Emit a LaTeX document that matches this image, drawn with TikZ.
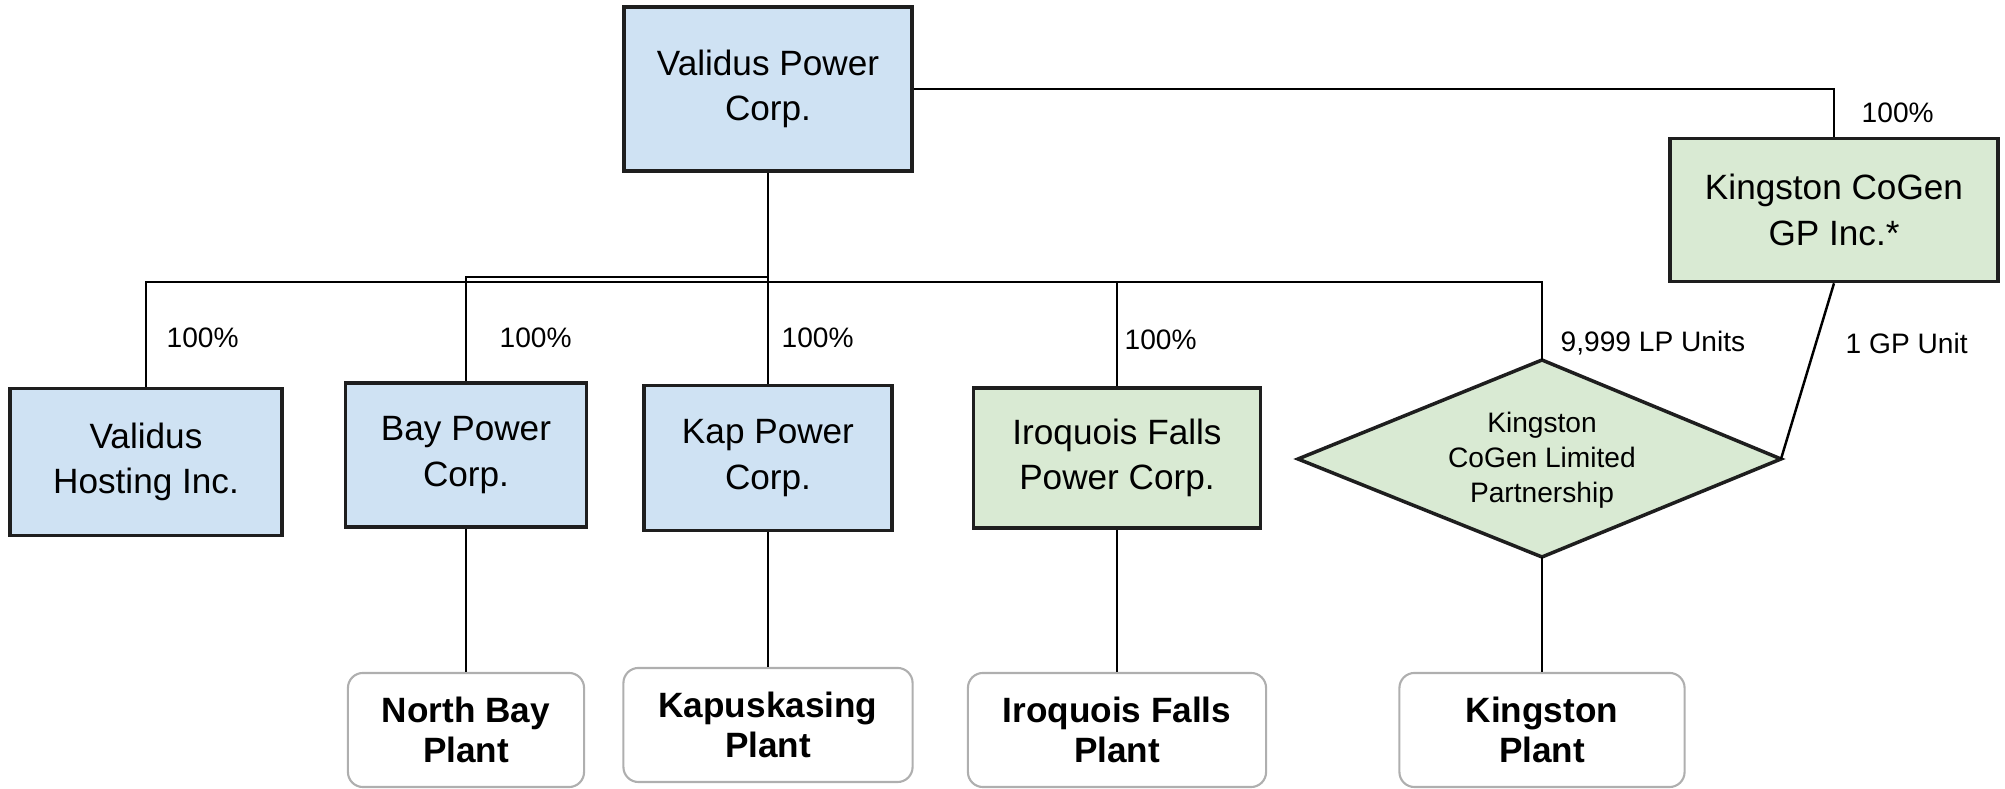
\documentclass[tikz,border=0pt]{standalone}
\usepackage{fontspec}
\setmainfont{Liberation Sans}

\definecolor{azul}{RGB}{207,226,243}
\definecolor{verde}{RGB}{217,234,211}
\definecolor{borde}{RGB}{30,30,30}
\definecolor{gris}{RGB}{175,175,175}

\tikzset{
  corp/.style={draw=borde, line width=1pt, fill=azul, align=center, inner sep=0pt,
    font=\fontsize{10}{13}\selectfont},
  corpverde/.style={corp, fill=verde},
  planta/.style={draw=gris, line width=0.6pt, rounded corners=0.15cm, align=center, inner sep=0pt,
    minimum height=1.14cm, font=\fontsize{10}{11.5}\selectfont\bfseries},
  pct/.style={anchor=west, inner sep=0pt, font=\fontsize{8}{10}\selectfont},
  linea/.style={line width=0.7pt, black}
}

\begin{document}
\begin{tikzpicture}[x=0.01cm, y=-0.01cm]
\useasboundingbox (0,0) rectangle (2005,789);

\node[corp, minimum width=2.88cm, minimum height=1.64cm] (vpc) at (768,89) {Validus Power\\Corp.};
\node[corpverde, minimum width=3.28cm, minimum height=1.43cm] (kgp) at (1834,210) {Kingston CoGen\\GP Inc.*};

\node[corp, minimum width=2.72cm, minimum height=1.47cm] (vhi) at (146,462) {Validus\\Hosting Inc.};
\node[corp, minimum width=2.41cm, minimum height=1.44cm] (bpc) at (466,455) {Bay Power\\Corp.};
\node[corp, minimum width=2.48cm, minimum height=1.45cm] (kpc) at (768,458) {Kap Power\\Corp.};
\node[corpverde, minimum width=2.87cm, minimum height=1.40cm] (ifpc) at (1117,458) {Iroquois Falls\\Power Corp.};

\coordinate (kclpn) at (1542,360);
\coordinate (kclpe) at (1781,459);
\coordinate (kclps) at (1542,557);
\coordinate (kclpw) at (1298,459);
\draw[line width=1pt, draw=borde, fill=verde] (kclpn) -- (kclpe) -- (kclps) -- (kclpw) -- cycle;
\node[align=center, inner sep=0pt, font=\fontsize{8}{10}\selectfont] (kclp) at (1542,460)
  {Kingston\\CoGen Limited\\Partnership};

\node[planta, minimum width=2.36cm] (nbp) at (466,730) {North Bay\\Plant};
\node[planta, minimum width=2.89cm] (kap) at (768,725) {Kapuskasing\\Plant};
\node[planta, minimum width=2.98cm] (ifp) at (1117,730) {Iroquois Falls\\Plant};
\node[planta, minimum width=2.85cm] (kp) at (1542,730) {Kingston\\Plant};

\coordinate (bus) at (768,282);
\coordinate (busbay) at (768,277);

\draw[linea] (vpc.south) -- (vpc.south |- bus);
\draw[linea] (vhi.north) -- (vhi.north |- bus) -- (kclpn |- bus) -- (kclpn);
\draw[linea] (bpc.north) -- (bpc.north |- busbay) -- (vpc.south |- busbay);
\draw[linea] (kpc.north) -- (kpc.north |- bus);
\draw[linea] (ifpc.north) -- (ifpc.north |- bus);
\draw[linea] (vpc.east) -| (kgp.north);
\draw[linea] (kgp.south) -- (kclpe);

\draw[linea] (bpc.south) -- (nbp.north);
\draw[linea] (kpc.south) -- (kap.north);
\draw[linea] (ifpc.south) -- (ifp.north);
\draw[linea] (kclps) -- (kp.north);

\node[pct] (p1) at (166,338) {100\%};
\node[pct] (p2) at (499,338) {100\%};
\node[pct] (p3) at (781,338) {100\%};
\node[pct] (p4) at (1124,340) {100\%};
\node[pct] (lp) at (1560,343) {9,999 LP Units};
\node[pct] (gp) at (1845,343) {1 GP Unit};
\node[pct] (p5) at (1861,113) {100\%};
\end{tikzpicture}
\end{document}
